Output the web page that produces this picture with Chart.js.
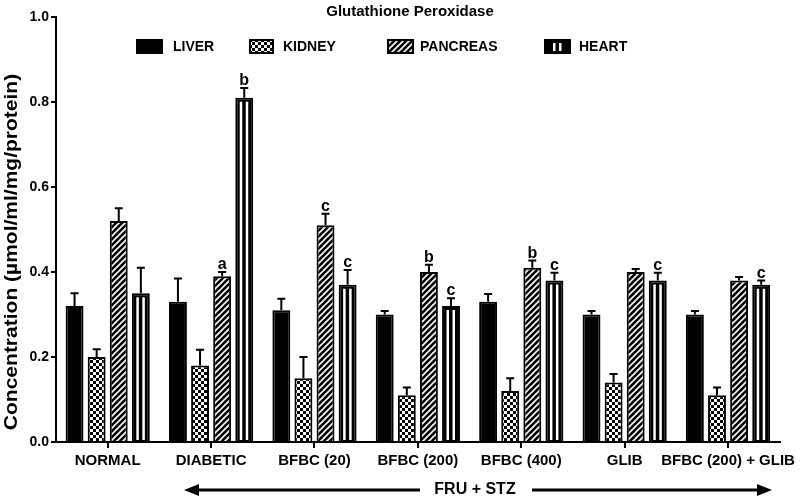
<!DOCTYPE html>
<html>
<head>
<meta charset="utf-8">
<script src="https://cdn.jsdelivr.net/npm/chart.js@4.4.1/dist/chart.umd.min.js"></script>
<style>
  html, body { margin: 0; padding: 0; background: #fff; }
  #wrap { width: 800px; height: 504px; }
</style>
</head>
<body>
<div id="wrap"><canvas id="gpxChart" width="800" height="504"></canvas></div>
<script>
// --- Data ---
const categories = ['NORMAL', 'DIABETIC', 'BFBC (20)', 'BFBC (200)', 'BFBC (400)', 'GLIB', 'BFBC (200) + GLIB'];
const seriesNames = ['LIVER', 'KIDNEY', 'PANCREAS', 'HEART'];

const liver    = [0.32, 0.33, 0.31, 0.30, 0.33, 0.30, 0.30];
const liverErr = [0.03, 0.055, 0.027, 0.008, 0.018, 0.008, 0.008];

const kidney    = [0.20, 0.18, 0.15, 0.11, 0.12, 0.14, 0.11];
const kidneyErr = [0.018, 0.037, 0.05, 0.018, 0.03, 0.02, 0.018];

const pancreas    = [0.52, 0.39, 0.51, 0.40, 0.41, 0.40, 0.38];
const pancreasErr = [0.03, 0.01, 0.027, 0.017, 0.017, 0.007, 0.008];
const pancreasSig = ['', 'a', 'c', 'b', 'b', '', ''];

const heart    = [0.35, 0.81, 0.37, 0.32, 0.38, 0.38, 0.37];
const heartErr = [0.06, 0.023, 0.035, 0.018, 0.018, 0.018, 0.01];
const heartSig = ['', 'b', 'c', 'c', 'c', 'c', 'c'];

const yTicks = [0.0, 0.2, 0.4, 0.6, 0.8, 1.0];

const chartTitle = 'Glutathione Peroxidase';
const groupNote = 'FRU + STZ';
const yTitle = 'Concentration (\u00b5mol/ml/mg/protein)';

const FONT = '"Liberation Sans", Arial, Helvetica, sans-serif';

// --- Fill patterns ---
function checkerPattern() {
    const c = document.createElement('canvas');
    c.width = 6; c.height = 6;
    const g = c.getContext('2d');
    g.fillStyle = '#fff'; g.fillRect(0, 0, 6, 6);
    g.fillStyle = '#000';
    g.fillRect(0, 0, 3, 3);
    g.fillRect(3, 3, 3, 3);
    return g.createPattern(c, 'repeat');
}

function hatchPattern() {
    const c = document.createElement('canvas');
    c.width = 6; c.height = 6;
    const g = c.getContext('2d');
    g.fillStyle = '#000'; g.fillRect(0, 0, 6, 6);
    g.strokeStyle = '#fff';
    g.lineWidth = 1.6;
    g.beginPath();
    g.moveTo(-1, 7); g.lineTo(7, -1);
    g.moveTo(-4, 4); g.lineTo(4, -4);
    g.moveTo(2, 10); g.lineTo(10, 2);
    g.stroke();
    return g.createPattern(c, 'repeat');
}

const fills = ['#000', checkerPattern(), hatchPattern(), '#000'];

// white double stripe that makes the HEART bars
function drawHeartStripes(ctx, cx, top, bottom) {
    ctx.fillStyle = '#fff';
    ctx.fillRect(cx - 4.5, top, 2.5, bottom - top);
    ctx.fillRect(cx + 1.5, top, 2.5, bottom - top);
}

// --- Plugins ---
const errorBarPlugin = {
    id: 'errorBars',
    afterDatasetsDraw(chart) {
        const ctx = chart.ctx;
        const yScale = chart.scales.y;
        ctx.save();
        chart.data.datasets.forEach((ds, di) => {
            const meta = chart.getDatasetMeta(di);
            meta.data.forEach((bar, i) => {
                if (di === 3) {
                    drawHeartStripes(ctx, bar.x, bar.y + 4, bar.base - 1);
                }
                const top = yScale.getPixelForValue(ds.data[i] + ds.errors[i]);
                ctx.strokeStyle = '#000';
                ctx.lineWidth = 2;
                ctx.beginPath();
                ctx.moveTo(bar.x, bar.y);
                ctx.lineTo(bar.x, top);
                ctx.moveTo(bar.x - 4, top);
                ctx.lineTo(bar.x + 4, top);
                ctx.stroke();
                const sig = ds.sig ? ds.sig[i] : '';
                if (sig) {
                    ctx.fillStyle = '#000';
                    ctx.font = 'bold 16px ' + FONT;
                    ctx.textAlign = 'center';
                    ctx.textBaseline = 'alphabetic';
                    ctx.fillText(sig, bar.x, top - 3);
                }
            });
        });
        ctx.restore();
    }
};

const decorPlugin = {
    id: 'decor',
    afterDraw(chart) {
        const ctx = chart.ctx;
        ctx.save();
        ctx.fillStyle = '#000';

        // title
        ctx.font = 'bold 15px ' + FONT;
        ctx.textAlign = 'center';
        ctx.textBaseline = 'middle';
        ctx.fillText(chartTitle, 410, 12);

        // legend
        const legendBoxes = [137, 250, 388, 545];
        const legendText = [173, 283, 420, 579];
        ctx.font = 'bold 14px ' + FONT;
        ctx.textAlign = 'left';
        seriesNames.forEach((name, i) => {
            const bx = legendBoxes[i];
            const bw = i === 1 ? 23 : 25;
            ctx.fillStyle = fills[i];
            ctx.fillRect(bx, 40, bw, 13);
            ctx.strokeStyle = '#000';
            ctx.lineWidth = 2;
            ctx.strokeRect(bx, 40, bw, 13);
            if (i === 3) {
                drawHeartStripes(ctx, bx + bw / 2, 43, 51);
            }
            ctx.fillStyle = '#000';
            ctx.fillText(name, legendText[i], 47);
        });

        // y axis title (a little narrow, like the original)
        ctx.save();
        ctx.translate(12, 252);
        ctx.rotate(-Math.PI / 2);
        ctx.scale(1, 0.88);
        ctx.font = 'bold 21px ' + FONT;
        ctx.textAlign = 'center';
        ctx.textBaseline = 'middle';
        ctx.fillText(yTitle, 0, 0);
        ctx.restore();

        // FRU + STZ arrow
        const y = 490;
        ctx.font = 'bold 16px ' + FONT;
        ctx.textAlign = 'center';
        ctx.textBaseline = 'middle';
        ctx.fillText(groupNote, 475, y);
        ctx.strokeStyle = '#000';
        ctx.lineWidth = 3;
        ctx.beginPath();
        ctx.moveTo(196, y); ctx.lineTo(420, y);
        ctx.moveTo(532, y); ctx.lineTo(760, y);
        ctx.stroke();
        ctx.beginPath();
        ctx.moveTo(184, y); ctx.lineTo(199, y - 6); ctx.lineTo(199, y + 6); ctx.closePath();
        ctx.moveTo(772, y); ctx.lineTo(757, y - 6); ctx.lineTo(757, y + 6); ctx.closePath();
        ctx.fill();
        ctx.restore();
    }
};

// --- Chart ---
const seriesData = [liver, kidney, pancreas, heart];
const seriesErr = [liverErr, kidneyErr, pancreasErr, heartErr];
const seriesSig = [null, null, pancreasSig, heartSig];

const datasets = seriesNames.map((name, i) => ({
    label: name,
    data: seriesData[i],
    errors: seriesErr[i],
    sig: seriesSig[i],
    backgroundColor: fills[i],
    borderColor: '#000',
    borderWidth: 2,
    borderSkipped: 'bottom',
    categoryPercentage: 0.855,
    barPercentage: 0.81
}));

new Chart(document.getElementById('gpxChart'), {
    type: 'bar',
    data: { labels: categories, datasets: datasets },
    options: {
        responsive: false,
        animation: false,
        devicePixelRatio: 1,
        layout: { padding: { top: 17, right: 15, bottom: 0, left: 0 } },
        plugins: {
            legend: { display: false },
            title: { display: false },
            tooltip: { enabled: false }
        },
        scales: {
            x: {
                offset: true,
                afterFit: (scale) => { scale.height = 62; },
                border: { display: true, color: '#000', width: 2 },
                grid: { display: true, offset: false, drawOnChartArea: false, drawTicks: true, tickLength: 6, color: '#000', lineWidth: 2 },
                ticks: {
                    color: '#000',
                    font: { family: FONT, size: 15, weight: 'bold' },
                    padding: 4,
                    maxRotation: 0,
                    autoSkip: false
                }
            },
            y: {
                min: 0,
                max: 1.0,
                afterFit: (scale) => { scale.width = 56; },
                afterBuildTicks: (scale) => { scale.ticks = yTicks.map(v => ({ value: v })); },
                border: { display: true, color: '#000', width: 2 },
                grid: { display: true, drawOnChartArea: false, drawTicks: true, tickLength: 5, color: '#000', lineWidth: 2 },
                ticks: {
                    color: '#000',
                    font: { family: FONT, size: 14, weight: 'bold' },
                    padding: 2,
                    callback: (v) => Number(v).toFixed(1)
                },
                title: { display: false }
            }
        }
    },
    plugins: [errorBarPlugin, decorPlugin]
});
</script>
</body>
</html>
